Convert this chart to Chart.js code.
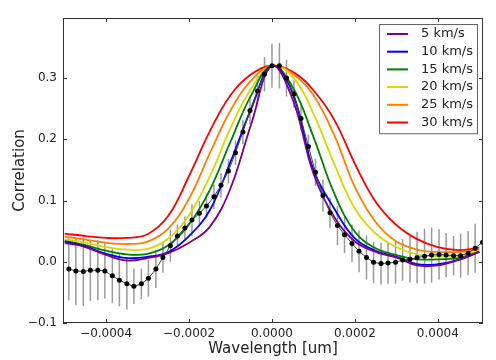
<!DOCTYPE html>
<html>
<head>
<meta charset="utf-8">
<script src="https://cdn.jsdelivr.net/npm/chart.js@4.4.1/dist/chart.umd.min.js"></script>
<style>
    html, body { margin: 0; padding: 0; background: #fff; }
    #wrap { width: 496px; height: 360px; }
</style>
</head>
<body>
<div id="wrap"><canvas id="chart" width="496" height="360"></canvas></div>
<script>
// measured correlation (black points with error bars)
const waveX = [
    -0.000490, -0.000473, -0.000455, -0.000438, -0.000420, -0.000403, -0.000385, -0.000368,
    -0.000350, -0.000333, -0.000315, -0.000298, -0.000280, -0.000263, -0.000245, -0.000228,
    -0.000210, -0.000193, -0.000175, -0.000158, -0.000140, -0.000123, -0.000105, -0.000088,
    -0.000070, -0.000053, -0.000035, -0.000018, 0, 0.000018, 0.000035, 0.000053,
    0.000070, 0.000088, 0.000105, 0.000123, 0.000140, 0.000158, 0.000175, 0.000193,
    0.000210, 0.000228, 0.000245, 0.000263, 0.000280, 0.000298, 0.000315, 0.000333,
    0.000350, 0.000368, 0.000385, 0.000403, 0.000420, 0.000438, 0.000455, 0.000473,
    0.000490, 0.000508
];
const corrValues = [
    -0.012, -0.015, -0.016, -0.014, -0.014, -0.015, -0.023, -0.030,
    -0.036, -0.040, -0.036, -0.027, -0.012, 0.007, 0.026, 0.042,
    0.055, 0.068, 0.079, 0.091, 0.106, 0.125, 0.148, 0.178,
    0.212, 0.247, 0.279, 0.306, 0.320, 0.320, 0.300, 0.274,
    0.234, 0.188, 0.146, 0.108, 0.080, 0.059, 0.044, 0.030,
    0.017, 0.007, -0.001, -0.003, -0.002, -0.001, 0.003, 0.004,
    0.007, 0.009, 0.011, 0.012, 0.011, 0.010, 0.010, 0.014,
    0.022, 0.032
];
const corrErrors = [
    0.051, 0.056, 0.056, 0.050, 0.049, 0.045, 0.044, 0.043,
    0.042, 0.029, 0.025, 0.030, 0.031, 0.025, 0.026, 0.019,
    0.019, 0.026, 0.020, 0.020, 0.020, 0.020, 0.020, 0.020,
    0.020, 0.022, 0.025, 0.028, 0.036, 0.037, 0.030, 0.022,
    0.020, 0.020, 0.022, 0.026, 0.025, 0.032, 0.030, 0.031,
    0.034, 0.036, 0.034, 0.034, 0.034, 0.035, 0.034, 0.038,
    0.042, 0.045, 0.045, 0.041, 0.036, 0.032, 0.036, 0.036,
    0.040, 0.040
];

// broadened model profiles
const modelX = [
    -0.0005, -0.00045, -0.0004, -0.00035, -0.0003, -0.00025, -0.0002, -0.00015, -0.0001, -0.00005,
    0, 0.00005, 0.0001, 0.00015, 0.0002, 0.00025, 0.0003, 0.00035, 0.0004, 0.00045, 0.0005
];
const model5 = [0.031, 0.024, 0.011, 0.002, 0.006, 0.014, 0.031, 0.057, 0.120, 0.225, 0.320,
    0.265, 0.144, 0.073, 0.033, 0.016, 0.007, -0.006, -0.006, 0.003, 0.016];
const model10 = [0.033, 0.025, 0.013, 0.006, 0.008, 0.016, 0.042, 0.084, 0.163, 0.250, 0.320,
    0.275, 0.150, 0.087, 0.038, 0.018, 0.008, -0.004, -0.004, 0.003, 0.016];
const model15 = [0.034, 0.027, 0.018, 0.012, 0.013, 0.027, 0.061, 0.117, 0.196, 0.272, 0.320,
    0.285, 0.204, 0.112, 0.049, 0.022, 0.011, 0.004, 0.004, 0.006, 0.016];
const model20 = [0.037, 0.031, 0.024, 0.020, 0.021, 0.038, 0.076, 0.139, 0.218, 0.283, 0.320,
    0.302, 0.242, 0.160, 0.087, 0.046, 0.024, 0.012, 0.009, 0.010, 0.017];
const model25 = [0.041, 0.036, 0.031, 0.029, 0.033, 0.054, 0.103, 0.177, 0.247, 0.296, 0.320,
    0.307, 0.272, 0.207, 0.122, 0.065, 0.033, 0.020, 0.016, 0.016, 0.020];
const model30 = [0.046, 0.042, 0.039, 0.039, 0.045, 0.075, 0.140, 0.213, 0.272, 0.306, 0.320,
    0.310, 0.280, 0.232, 0.160, 0.098, 0.060, 0.037, 0.024, 0.019, 0.023];

const speedLabels = ['5 km/s', '10 km/s', '15 km/s', '20 km/s', '25 km/s', '30 km/s'];
const speedColors = ['#800080', '#0000ff', '#008000', '#d8d800', '#ff7f00', '#ff0000'];
const models = [model5, model10, model15, model20, model25, model30];

const xTicks = [-0.0004, -0.0002, 0, 0.0002, 0.0004];
const yTicks = [-0.1, 0, 0.1, 0.2, 0.3];
const xMin = -0.000504, xMax = 0.000509;
const yMin = -0.1, yMax = 0.398;

const minus = v => (v < 0 ? '\u2212' : '');

// grey vertical error bars under everything
const errorBars = {
    id: 'errorBars',
    beforeDatasetsDraw(chart) {
        const {ctx, scales: {x, y}, chartArea} = chart;
        ctx.save();
        ctx.beginPath();
        ctx.rect(chartArea.left, chartArea.top, chartArea.width, chartArea.height);
        ctx.clip();
        ctx.strokeStyle = '#9a9a9a';
        ctx.lineWidth = 1.5;
        waveX.forEach((wx, i) => {
            const px = x.getPixelForValue(wx);
            ctx.beginPath();
            ctx.moveTo(px, y.getPixelForValue(corrValues[i] - corrErrors[i]));
            ctx.lineTo(px, y.getPixelForValue(corrValues[i] + corrErrors[i]));
            ctx.stroke();
        });
        ctx.restore();
    }
};

// box frame with inward ticks on all four sides
const frame = {
    id: 'frame',
    afterDraw(chart) {
        const {ctx, scales: {x, y}, chartArea: a} = chart;
        ctx.save();
        ctx.strokeStyle = '#333';
        ctx.lineWidth = 1;
        ctx.strokeRect(a.left + 0.5, a.top + 0.5, a.width - 1, a.height - 1);
        ctx.beginPath();
        xTicks.forEach(v => {
            const px = Math.round(x.getPixelForValue(v)) + 0.5;
            ctx.moveTo(px, a.bottom); ctx.lineTo(px, a.bottom - 4);
            ctx.moveTo(px, a.top); ctx.lineTo(px, a.top + 4);
        });
        yTicks.forEach(v => {
            const py = Math.round(y.getPixelForValue(v)) + 0.5;
            ctx.moveTo(a.left, py); ctx.lineTo(a.left + 4, py);
            ctx.moveTo(a.right, py); ctx.lineTo(a.right - 4, py);
        });
        ctx.stroke();
        ctx.restore();
    }
};

// legend box in the upper right corner
const legendBox = {
    id: 'legendBox',
    afterDraw(chart) {
        const {ctx, chartArea} = chart;
        const items = chart.data.datasets.filter(d => d.inLegend);
        const x0 = chartArea.right - 104, y0 = chartArea.top + 6;
        const w = 98, rowH = 17.7;
        const h = items.length * rowH + 3;
        ctx.save();
        ctx.fillStyle = '#fff';
        ctx.fillRect(x0, y0, w, h);
        ctx.strokeStyle = '#666';
        ctx.lineWidth = 1;
        ctx.strokeRect(x0 + 0.5, y0 + 0.5, w, h);
        ctx.font = '13px "DejaVu Sans"';
        ctx.textBaseline = 'middle';
        items.forEach((d, i) => {
            const cy = y0 + 10 + i * rowH;
            ctx.strokeStyle = d.borderColor;
            ctx.lineWidth = 2;
            ctx.beginPath();
            ctx.moveTo(x0 + 8, cy);
            ctx.lineTo(x0 + 29, cy);
            ctx.stroke();
            ctx.fillStyle = '#222';
            ctx.fillText(d.label, x0 + 42, cy);
        });
        ctx.restore();
    }
};

Chart.defaults.font.family = '"DejaVu Sans", sans-serif';

const datasets = [{
    label: 'data',
    data: waveX.map((wx, i) => ({x: wx, y: corrValues[i]})),
    borderColor: '#444',
    borderWidth: 1,
    pointRadius: 2.5,
    pointBackgroundColor: '#000',
    pointBorderWidth: 0,
    tension: 0,
    order: 0
}];
models.forEach((m, i) => {
    datasets.push({
        label: speedLabels[i],
        inLegend: true,
        data: modelX.map((mx, j) => ({x: mx, y: m[j]})),
        borderColor: speedColors[i],
        borderWidth: 1.8,
        pointRadius: 0,
        tension: 0.4,
        order: 1 + i
    });
});

const chart = new Chart(document.getElementById('chart'), {
    type: 'line',
    data: { datasets: datasets },
    options: {
        responsive: false,
        animation: false,
        devicePixelRatio: 1,
        layout: { padding: { top: 18, right: 13, left: 0, bottom: 0 } },
        plugins: {
            legend: { display: false },
            tooltip: { enabled: false }
        },
        scales: {
            x: {
                type: 'linear',
                min: xMin,
                max: xMax,
                grid: { display: false, drawTicks: false },
                border: { display: false },
                afterBuildTicks: s => { s.ticks = xTicks.map(v => ({value: v})); },
                afterFit: s => { s.height = 37; },
                ticks: {
                    padding: 4,
                    color: '#222',
                    font: { size: 12 },
                    maxRotation: 0,
                    autoSkip: false,
                    callback: v => minus(v) + Math.abs(v).toFixed(4)
                },
                title: {
                    display: true,
                    text: 'Wavelength [um]',
                    color: '#222',
                    font: { size: 15 },
                    padding: { top: 0, bottom: 2 }
                }
            },
            y: {
                min: yMin,
                max: yMax,
                grid: { display: false, drawTicks: false },
                border: { display: false },
                afterBuildTicks: s => { s.ticks = yTicks.map(v => ({value: v})); },
                afterFit: s => { s.width = 63; },
                ticks: {
                    padding: 6,
                    color: '#222',
                    font: { size: 12 },
                    callback: v => minus(v) + Math.abs(v).toFixed(1)
                },
                title: {
                    display: true,
                    text: 'Correlation',
                    color: '#222',
                    font: { size: 15 },
                    padding: { top: 11, bottom: 0 }
                }
            }
        }
    },
    plugins: [errorBars, frame, legendBox]
});
</script>
</body>
</html>
